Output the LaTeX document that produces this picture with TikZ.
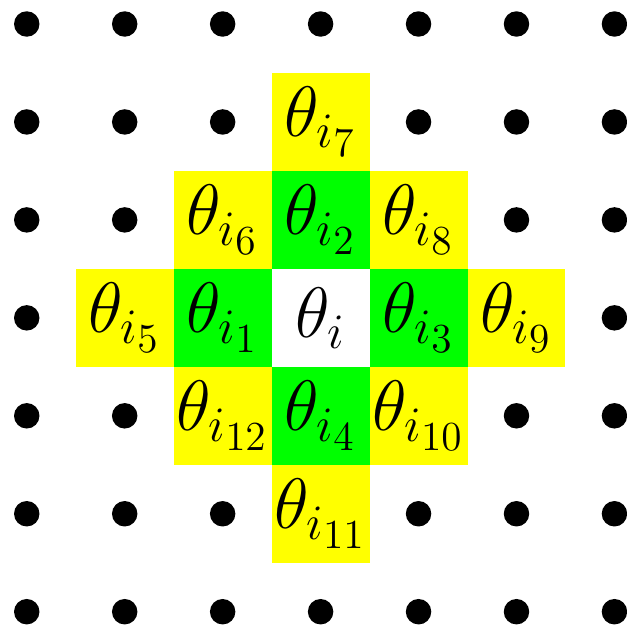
\documentclass[tikz,border=0pt]{standalone}
\usepackage{amsmath, tikz}
\definecolor{nearcol}{RGB}{0,255,0}
\definecolor{farcol}{RGB}{255,255,0}

\begin{document}
\begin{tikzpicture}[cell/.style={minimum size=1cm, inner sep=0pt, font=\huge},
  near/.style={cell, fill=nearcol}, far/.style={cell, fill=farcol}]
  \useasboundingbox (-0.273,-0.156) rectangle (6.127,6.245);
  \foreach \x in {0,...,6}
    \foreach \y in {0,...,6}
      \fill (\x,\y) circle (0.13);
  \node[cell, fill=white] (c) at (3,3) {$\theta_i$};
  \node[near] (n1) at (2,3) {$\theta_{i_1}$};
  \node[near] (n2) at (3,4) {$\theta_{i_2}$};
  \node[near] (n3) at (4,3) {$\theta_{i_3}$};
  \node[near] (n4) at (3,2) {$\theta_{i_4}$};
  \node[far] (f5) at (1,3) {$\theta_{i_5}$};
  \node[far] (f6) at (2,4) {$\theta_{i_6}$};
  \node[far] (f7) at (3,5) {$\theta_{i_7}$};
  \node[far] (f8) at (4,4) {$\theta_{i_8}$};
  \node[far] (f9) at (5,3) {$\theta_{i_9}$};
  \node[far] (f10) at (4,2) {$\theta_{i_{10}}$};
  \node[far] (f11) at (3,1) {$\theta_{i_{11}}$};
  \node[far] (f12) at (2,2) {$\theta_{i_{12}}$};
\end{tikzpicture}
\end{document}
